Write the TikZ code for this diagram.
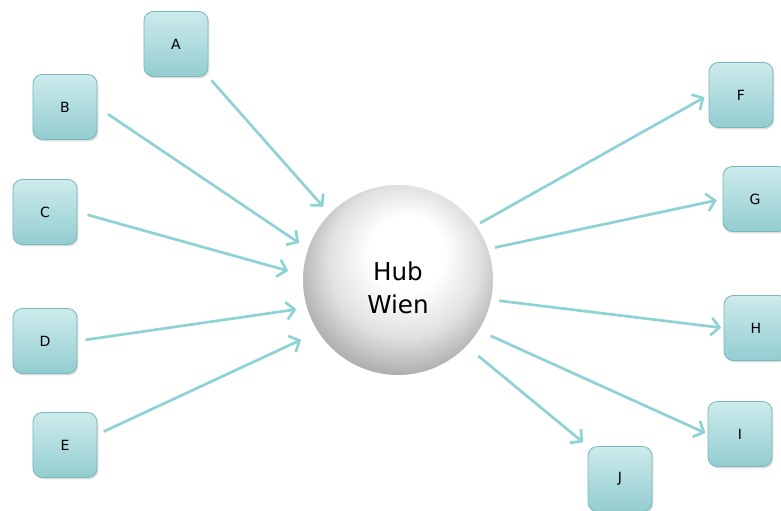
\documentclass[tikz,border=0pt]{standalone}
\usepackage{fontspec}
\setmainfont{DejaVu Sans}
\usetikzlibrary{arrows.meta,shadows}
\definecolor{keytop}{HTML}{CDEBEC}
\definecolor{keybot}{HTML}{93CDD0}
\definecolor{keyedge}{HTML}{78B8BC}
\definecolor{linkcol}{HTML}{8FD2D5}
% light comes from the upper middle of the ball
\pgfdeclareradialshading{hubball}{\pgfpoint{3bp}{9bp}}{%
  color(0bp)=(white); color(10bp)=(white);
  color(20bp)=(black!12); color(30bp)=(black!36);
  color(36bp)=(black!46); color(44bp)=(black!46)}
\tikzset{
  key/.style={rectangle, rounded corners=0.28cm, minimum width=1.92cm,
    minimum height=1.95cm, top color=keytop, bottom color=keybot,
    draw=keyedge, line width=0.7pt, font=\fontsize{12}{14}\selectfont,
    drop shadow={shadow xshift=1.2pt, shadow yshift=-1.6pt, opacity=0.25}},
  hub/.style={circle, minimum size=5.7cm, shading=hubball,
    font=\fontsize{21}{28}\selectfont, align=center, inner sep=0pt},
  link/.style={draw=linkcol, line width=2.3pt, -{Straight Barb[length=7pt,width=15pt]}},
}
\begin{document}
\begin{tikzpicture}[x=0.03cm,y=-0.03cm]
    \useasboundingbox (0,0) rectangle (781,511);
    \node[hub] (hub) at (398,280) {\parbox{3cm}{\centering\vspace*{13pt}Hub\\Wien}};
    % incoming
    \node[key] (a) at (176,44) {A};
    \node[key] (b) at (65,107) {B};
    \node[key] (c) at (45,212) {C};
    \node[key] (d) at (45,341) {D};
    \node[key] (e) at (65,445) {E};
    % outgoing
    \node[key] (f) at (741,95) {F};
    \node[key] (g) at (755,199) {G};
    \node[key] (h) at (756,328) {H};
    \node[key] (i) at (740,434) {I};
    \node[key] (j) at (620,479) {J};
    \draw[link, shorten <=4pt, shorten >=8pt] (a.south east) -- (hub.136);
    \draw[link, shorten <=11pt, shorten >=9pt] (b.east) -- (hub.161);
    \draw[link, shorten <=9pt, shorten >=13pt] (c.east) -- (hub.177);
    \draw[link, shorten <=7pt, shorten >=9pt] (d.east) -- (hub.197);
    \draw[link, shorten <=6pt, shorten >=16pt] (e.18) -- (hub.213);
    \draw[link, shorten <=4pt, shorten >=4pt] (hub.35) -- (f.west);
    \draw[link, shorten <=6pt, shorten >=5pt] (hub.19) -- (g.west);
    \draw[link, shorten <=7pt, shorten >=2pt] (hub.-12) -- (h.west);
    \draw[link, shorten <=11pt, shorten >=2pt] (hub.-32) -- (i.west);
    \draw[link, shorten <=13pt, shorten >=5pt] (hub.-44) -- (j.north west);
\end{tikzpicture}
\end{document}
